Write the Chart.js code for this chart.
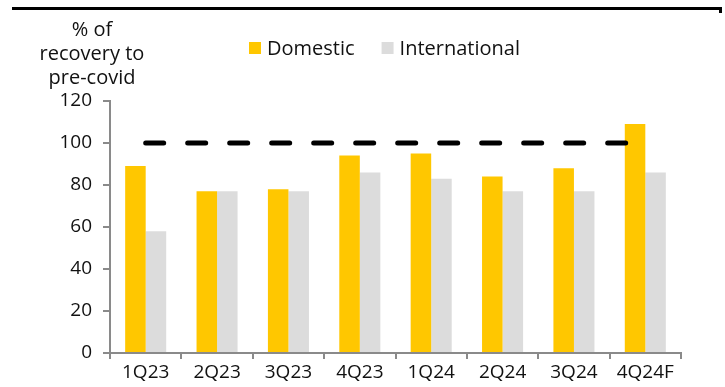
<!DOCTYPE html>
<html>
<head>
<meta charset="utf-8">
<script src="https://cdn.jsdelivr.net/npm/chart.js@4"></script>
<style>
  body { margin: 0; background: #fff; }
  #wrap { position: relative; width: 725px; height: 387px; }
  #topRule { position: absolute; left: 12px; top: 7px; width: 710px; height: 3px; background: #000; }
  #topTick { position: absolute; left: 719px; top: 7px; width: 3px; height: 6px; background: #000; }
</style>
</head>
<body>
<div id="wrap">
  <div id="topRule"></div>
  <div id="topTick"></div>
  <canvas id="recoveryChart"></canvas>
</div>
<script>
// Chart data
const quarters = ['1Q23', '2Q23', '3Q23', '4Q23', '1Q24', '2Q24', '3Q24', '4Q24F'];
const domestic = [89, 77, 78, 94, 95, 84, 88, 109];
const international = [58, 77, 77, 86, 83, 77, 77, 86];
const preCovid = [100, 100, 100, 100, 100, 100, 100, 100];
const yTicks = [0, 20, 40, 60, 80, 100, 120];
const yTitle = ['% of', 'recovery to', 'pre-covid'];

const FONT = '"Open Sans", "Liberation Sans", sans-serif';
const AXIS_GREY = '#8a8a8a';

// y-axis title and legend drawn as text above the plot
const headerPlugin = {
    id: 'header',
    afterDraw(chart) {
        const ctx = chart.ctx;
        ctx.save();
        ctx.fillStyle = '#111';
        ctx.font = '20px ' + FONT;
        ctx.textBaseline = 'alphabetic';

        // stacked y title
        ctx.textAlign = 'center';
        yTitle.forEach((line, i) => {
            ctx.fillText(line, 92, 36 + i * 24);
        });

        // legend for the two bar series
        ctx.textAlign = 'left';
        let x = 249;
        chart.data.datasets.filter(ds => ds.type !== 'line').forEach(ds => {
            ctx.fillStyle = ds.backgroundColor;
            ctx.fillRect(x, 42, 12, 12);
            ctx.fillStyle = '#111';
            ctx.fillText(ds.label, x + 18, 55);
            x += 18 + ctx.measureText(ds.label).width + 27;
        });
        ctx.restore();
    }
};

const ctx = document.getElementById('recoveryChart').getContext('2d');

new Chart(ctx, {
    data: {
        labels: quarters,
        datasets: [{
            type: 'line',
            label: 'Pre-covid',
            data: preCovid,
            borderColor: '#000',
            borderWidth: 5,
            borderDash: [18, 24],
            borderCapStyle: 'round',
            pointRadius: 0,
            fill: false,
            order: 0
        }, {
            type: 'bar',
            label: 'Domestic',
            data: domestic,
            backgroundColor: '#FFC700',
            categoryPercentage: 0.575,
            barPercentage: 1,
            order: 1
        }, {
            type: 'bar',
            label: 'International',
            data: international,
            backgroundColor: '#DCDCDC',
            categoryPercentage: 0.575,
            barPercentage: 1,
            order: 1
        }]
    },
    options: {
        responsive: true,
        maintainAspectRatio: false,
        animation: false,
        layout: {
            padding: { top: 101, right: 44, bottom: 0, left: 0 }
        },
        plugins: {
            legend: { display: false },
            tooltip: { enabled: false }
        },
        scales: {
            x: {
                offset: true,
                grid: {
                    offset: true,
                    drawOnChartArea: false,
                    color: AXIS_GREY,
                    lineWidth: 2,
                    tickLength: 6
                },
                border: { color: AXIS_GREY, width: 2 },
                ticks: {
                    color: '#111',
                    font: { family: FONT, size: 19 },
                    padding: 2,
                    maxRotation: 0
                },
                afterFit(scale) { scale.height = 34; }
            },
            y: {
                min: 0,
                max: 120,
                afterBuildTicks(scale) {
                    scale.ticks = yTicks.map(v => ({ value: v }));
                },
                grid: {
                    drawOnChartArea: false,
                    color: AXIS_GREY,
                    lineWidth: 2,
                    tickLength: 7
                },
                border: { color: AXIS_GREY, width: 2 },
                ticks: {
                    color: '#111',
                    font: { family: FONT, size: 19 },
                    padding: 11
                },
                afterFit(scale) { scale.width = 110; }
            }
        }
    },
    plugins: [headerPlugin]
});
</script>
</body>
</html>
